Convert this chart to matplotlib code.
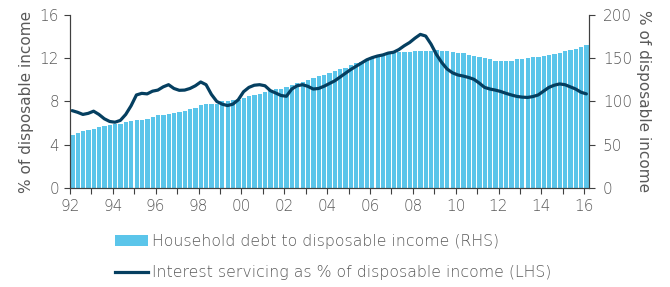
import matplotlib
matplotlib.use("Agg")
import matplotlib.pyplot as plt
from matplotlib.patches import Patch
from matplotlib.lines import Line2D
import numpy as np

plt.rcParams['font.family'] = ['DejaVu Sans']
plt.rcParams['font.weight'] = 'light'

start_year = 1992
# Quarterly data, 1992Q1 .. 2016Q1
debt_to_income = [
    61, 63, 66, 66.5,
    68, 70, 72, 73,
    74, 74.5, 76, 77,
    78, 78.5, 80, 82,
    84, 84, 86, 86.5,
    88, 89, 91, 92.5,
    96, 96.5, 97, 97,
    100, 101, 102, 102,
    104, 106, 108, 109,
    111, 113, 114, 114,
    117, 119, 121, 122,
    125, 127, 129, 131,
    133, 135, 137, 139,
    142, 144, 146, 148,
    151, 153, 154, 155,
    156, 157, 157, 157,
    158, 158, 158, 158.5,
    159, 158.5, 158, 157,
    156.5, 155.5, 154, 152,
    151, 150, 148.5, 147,
    146.5, 146.5, 147, 148.5,
    149.5, 150, 151, 151.5,
    153, 154, 155, 156,
    158, 160, 161, 162.5,
    165,
]
interest_servicing = [
    7.15, 7.0, 6.8, 6.9,
    7.1, 6.8, 6.4, 6.15,
    6.08, 6.25, 6.8, 7.6,
    8.6, 8.75, 8.7, 8.95,
    9.05, 9.35, 9.55, 9.2,
    9.03, 9.05, 9.2, 9.45,
    9.8, 9.55, 8.65, 8.0,
    7.75, 7.62, 7.75, 8.15,
    8.9, 9.3, 9.5, 9.55,
    9.45, 9.0, 8.78, 8.55,
    8.48, 9.15, 9.45, 9.55,
    9.4, 9.15, 9.2, 9.4,
    9.65, 9.9, 10.25, 10.6,
    10.95, 11.25, 11.55, 11.85,
    12.05, 12.2, 12.3, 12.47,
    12.55, 12.8, 13.15, 13.45,
    13.85, 14.2, 14.05, 13.3,
    12.35, 11.6, 11.0, 10.65,
    10.45, 10.35, 10.22, 10.05,
    9.7, 9.3, 9.15, 9.05,
    8.92, 8.75, 8.6, 8.47,
    8.4, 8.37, 8.45, 8.6,
    8.95, 9.3, 9.5, 9.62,
    9.55, 9.35, 9.15, 8.85,
    8.7,
]
tick_labels = ['92', '94', '96', '98', '00', '02', '04', '06', '08', '10', '12', '14', '16']
bar_label = 'Household debt to disposable income (RHS)'
line_label = 'Interest servicing as % of disposable income (LHS)'
axis_label = '% of disposable income'

bar_color = '#5BC5EA'
line_color = '#053F60'
text_color = '#595959'
spine_color = '#404040'
fs = 11

x = start_year + np.arange(len(debt_to_income)) / 4.0

fig = plt.figure(figsize=(6.7, 2.87), dpi=100)
ax = fig.add_axes([0.1045, 0.345, 0.7745, 0.603])
ax2 = ax.twinx()

ax2.bar(x + 0.01, debt_to_income, width=0.2, align='edge', color=bar_color, linewidth=0)
ax.plot(x + 0.1, interest_servicing, color=line_color, linewidth=2.3, solid_capstyle='round')

ax.set_zorder(ax2.get_zorder() + 1)
ax.patch.set_visible(False)

ax.set_xlim(1992, 2016.22)
ax.set_ylim(0, 16)
ax2.set_ylim(0, 200)
ax.set_yticks([0, 4, 8, 12, 16])
ax2.set_yticks([0, 50, 100, 150, 200])
ax.set_xticks(np.arange(1992, 2017, 2))
ax.set_xticklabels(tick_labels)
ax.set_xticks(np.arange(1992, 2017, 1), minor=True)

for a in (ax, ax2):
    a.spines['top'].set_visible(False)
    for s in ('left', 'right', 'bottom'):
        a.spines[s].set_color(spine_color)
        a.spines[s].set_linewidth(0.8)
    a.tick_params(axis='both', which='both', colors=spine_color, labelcolor=text_color,
                  labelsize=fs, length=4, width=0.8, direction='out')
ax.tick_params(axis='x', which='minor', length=4)
ax.tick_params(axis='x', pad=4)
ax.tick_params(axis='y', pad=4)
ax2.tick_params(axis='y', pad=6)

ax.set_ylabel(axis_label, color=text_color, fontsize=fs, labelpad=4)
ax2.set_ylabel(axis_label, color=text_color, fontsize=fs, rotation=270, labelpad=14)

handles = [Patch(facecolor=bar_color, edgecolor='none'),
           Line2D([0], [0], color=line_color, linewidth=2.3)]
fig.legend(handles, [bar_label, line_label], loc='upper left',
           bbox_to_anchor=(0.171, 0.183), frameon=False, fontsize=11.3,
           labelcolor=text_color, handlelength=2.1, handletextpad=0.3,
           labelspacing=1.0, borderaxespad=0, borderpad=0)

fig.savefig('out.png', dpi=100)
